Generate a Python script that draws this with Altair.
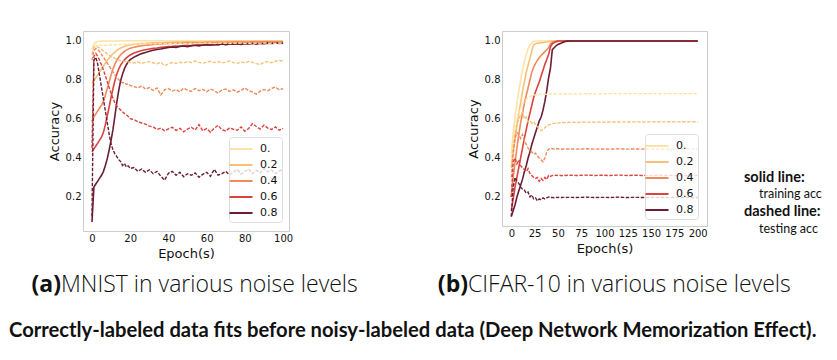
import altair as alt
import pandas as pd

# ---------------- data ----------------
LEVELS = ["0.", "0.2", "0.4", "0.6", "0.8"]
COLORS = ["#fde3a7", "#f7c277", "#ef8a5b", "#d9443f", "#6b1d33"]

# MNIST epochs
E_A = list(range(0, 21)) + list(range(22, 101, 2))
# CIFAR-10 epochs
E_B = list(range(0, 61, 2)) + list(range(65, 201, 5))

A_TRAIN_00 = [0.955, 0.985, 0.993, 0.996, 0.997, 0.998, 0.998, 0.998, 0.999, 0.999,
              0.999, 0.999, 0.999, 0.999, 0.999, 1.0, 1.0, 1.0, 1.0, 1.0, 1.0,
              1.0, 1.0, 1.0, 1.0, 1.0, 1.0, 1.0, 1.0, 1.0, 1.0,
              1.0, 1.0, 1.0, 1.0, 1.0, 1.0, 1.0, 1.0, 1.0, 1.0,
              1.0, 1.0, 1.0, 1.0, 1.0, 1.0, 1.0, 1.0, 1.0, 1.0,
              1.0, 1.0, 1.0, 1.0, 1.0, 1.0, 1.0, 1.0, 1.0, 1.0]
A_TRAIN_02 = [0.78, 0.795, 0.81, 0.825, 0.84, 0.855, 0.87, 0.885, 0.9, 0.912,
              0.923, 0.933, 0.942, 0.95, 0.957, 0.963, 0.967, 0.971, 0.974, 0.977, 0.979,
              0.982, 0.984, 0.986, 0.987, 0.988, 0.989, 0.990, 0.991, 0.991, 0.992,
              0.992, 0.993, 0.993, 0.994, 0.994, 0.994, 0.995, 0.995, 0.995, 0.995,
              0.996, 0.996, 0.996, 0.996, 0.996, 0.997, 0.997, 0.997, 0.997, 0.997,
              0.997, 0.998, 0.998, 0.998, 0.998, 0.998, 0.998, 0.998, 0.998, 0.998]
A_TRAIN_04 = [0.585, 0.61, 0.625, 0.64, 0.655, 0.67, 0.69, 0.72, 0.755, 0.79,
              0.825, 0.855, 0.88, 0.9, 0.915, 0.928, 0.938, 0.946, 0.952, 0.957, 0.961,
              0.967, 0.971, 0.974, 0.977, 0.979, 0.981, 0.982, 0.983, 0.985, 0.986,
              0.986, 0.987, 0.988, 0.988, 0.989, 0.989, 0.990, 0.990, 0.990, 0.991,
              0.991, 0.991, 0.992, 0.992, 0.992, 0.992, 0.993, 0.993, 0.993, 0.993,
              0.993, 0.994, 0.994, 0.994, 0.994, 0.994, 0.994, 0.995, 0.995, 0.995]
A_TRAIN_06 = [0.43, 0.445, 0.46, 0.475, 0.49, 0.505, 0.53, 0.57, 0.615, 0.66,
              0.71, 0.755, 0.795, 0.83, 0.855, 0.875, 0.89, 0.902, 0.912, 0.92, 0.927,
              0.937, 0.944, 0.95, 0.954, 0.958, 0.961, 0.963, 0.966, 0.968, 0.97,
              0.971, 0.973, 0.972, 0.975, 0.976, 0.974, 0.978, 0.979, 0.977, 0.98,
              0.981, 0.979, 0.982, 0.983, 0.981, 0.984, 0.982, 0.985, 0.984, 0.986,
              0.983, 0.986, 0.987, 0.985, 0.988, 0.986, 0.987, 0.989, 0.986, 0.988]
A_TRAIN_08 = [0.07, 0.25, 0.265, 0.28, 0.295, 0.31, 0.33, 0.36, 0.395, 0.44,
              0.49, 0.545, 0.615, 0.685, 0.745, 0.795, 0.83, 0.857, 0.877, 0.892, 0.903,
              0.916, 0.926, 0.934, 0.94, 0.946, 0.951, 0.955, 0.958, 0.962, 0.965,
              0.968, 0.966, 0.971, 0.973, 0.97, 0.975, 0.977, 0.974, 0.978, 0.98,
              0.977, 0.981, 0.979, 0.983, 0.98, 0.984, 0.982, 0.985, 0.981, 0.986,
              0.984, 0.987, 0.983, 0.988, 0.985, 0.989, 0.986, 0.988, 0.99, 0.987]

A_TEST_00 = [0.95, 0.972, 0.978, 0.976, 0.977, 0.975, 0.977, 0.976, 0.978, 0.977,
             0.979, 0.978, 0.98, 0.979, 0.981, 0.98, 0.982, 0.981, 0.982, 0.983, 0.982,
             0.983, 0.984, 0.983, 0.985, 0.984, 0.985, 0.984, 0.986, 0.985, 0.986,
             0.985, 0.986, 0.987, 0.986, 0.985, 0.987, 0.986, 0.987, 0.986, 0.988,
             0.987, 0.986, 0.987, 0.988, 0.987, 0.986, 0.988, 0.987, 0.988, 0.987,
             0.986, 0.988, 0.987, 0.988, 0.989, 0.987, 0.988, 0.987, 0.989, 0.988]
A_TEST_02 = [0.93, 0.965, 0.97, 0.968, 0.962, 0.955, 0.948, 0.94, 0.933, 0.926,
             0.92, 0.915, 0.91, 0.906, 0.902, 0.899, 0.897, 0.894, 0.893, 0.891, 0.889,
             0.886, 0.891, 0.884, 0.889, 0.893, 0.887, 0.882, 0.89, 0.872, 0.881,
             0.888, 0.884, 0.89, 0.886, 0.893, 0.888, 0.896, 0.889, 0.885, 0.891,
             0.895, 0.888, 0.893, 0.886, 0.89, 0.896, 0.888, 0.884, 0.892, 0.887,
             0.894, 0.889, 0.883, 0.878, 0.889, 0.893, 0.887, 0.895, 0.899, 0.896]
A_TEST_04 = [0.9, 0.95, 0.96, 0.955, 0.945, 0.93, 0.915, 0.9, 0.885, 0.87,
             0.855, 0.84, 0.825, 0.81, 0.8, 0.79, 0.783, 0.787, 0.776, 0.779, 0.771,
             0.765, 0.758, 0.769, 0.752, 0.76, 0.745, 0.758, 0.722, 0.748, 0.755,
             0.742, 0.75, 0.738, 0.757, 0.747, 0.74, 0.755, 0.744, 0.75, 0.738,
             0.752, 0.744, 0.731, 0.748, 0.752, 0.74, 0.748, 0.736, 0.745, 0.758,
             0.744, 0.737, 0.726, 0.741, 0.749, 0.744, 0.756, 0.762, 0.748, 0.755]
A_TEST_06 = [0.45, 0.92, 0.935, 0.92, 0.9, 0.875, 0.85, 0.82, 0.79, 0.76,
             0.73, 0.705, 0.68, 0.665, 0.655, 0.645, 0.635, 0.627, 0.62, 0.612, 0.6,
             0.595, 0.585, 0.578, 0.572, 0.562, 0.558, 0.545, 0.552, 0.538, 0.548,
             0.556, 0.54, 0.551, 0.533, 0.547, 0.556, 0.542, 0.57, 0.538, 0.549,
             0.531, 0.552, 0.566, 0.543, 0.537, 0.553, 0.546, 0.541, 0.558, 0.536,
             0.55, 0.575, 0.56, 0.547, 0.567, 0.552, 0.545, 0.558, 0.541, 0.55]
A_TEST_08 = [0.1, 0.9, 0.915, 0.88, 0.82, 0.76, 0.7, 0.64, 0.58, 0.52,
             0.47, 0.44, 0.42, 0.405, 0.39, 0.38, 0.36, 0.37, 0.352, 0.358, 0.345,
             0.35, 0.33, 0.342, 0.325, 0.338, 0.318, 0.33, 0.305, 0.285, 0.32,
             0.33, 0.31, 0.325, 0.302, 0.318, 0.31, 0.322, 0.3, 0.315, 0.325,
             0.305, 0.34, 0.31, 0.318, 0.33, 0.312, 0.325, 0.34, 0.315, 0.33,
             0.342, 0.318, 0.335, 0.322, 0.345, 0.328, 0.336, 0.318, 0.332, 0.34]

B_TRAIN_00 = [0.42, 0.53, 0.61, 0.68, 0.74, 0.8, 0.85, 0.89, 0.93, 0.96,
              0.98, 0.99, 0.997, 1.0, 1.0, 1.0, 1.0, 1.0, 1.0, 1.0,
              1.0, 1.0, 1.0, 1.0, 1.0, 1.0, 1.0, 1.0, 1.0, 1.0, 1.0,
              1.0, 1.0, 1.0, 1.0, 1.0, 1.0, 1.0, 1.0, 1.0, 1.0,
              1.0, 1.0, 1.0, 1.0, 1.0, 1.0, 1.0, 1.0, 1.0, 1.0,
              1.0, 1.0, 1.0, 1.0, 1.0, 1.0, 1.0, 1.0]
B_TRAIN_02 = [0.35, 0.43, 0.5, 0.57, 0.63, 0.68, 0.74, 0.79, 0.84, 0.875,
              0.91, 0.95, 0.98, 0.986, 0.988, 0.99, 0.991, 0.992, 0.993, 0.995,
              0.997, 0.998, 0.999, 1.0, 1.0, 1.0, 1.0, 1.0, 1.0, 1.0, 1.0,
              1.0, 1.0, 1.0, 1.0, 1.0, 1.0, 1.0, 1.0, 1.0, 1.0,
              1.0, 1.0, 1.0, 1.0, 1.0, 1.0, 1.0, 1.0, 1.0, 1.0,
              1.0, 1.0, 1.0, 1.0, 1.0, 1.0, 1.0, 1.0]
B_TRAIN_04 = [0.2, 0.3, 0.38, 0.45, 0.52, 0.58, 0.63, 0.68, 0.72, 0.76,
              0.8, 0.84, 0.865, 0.885, 0.9, 0.915, 0.925, 0.935, 0.945, 0.955,
              0.965, 0.985, 0.992, 0.996, 0.999, 1.0, 1.0, 1.0, 1.0, 1.0, 1.0,
              1.0, 1.0, 1.0, 1.0, 1.0, 1.0, 1.0, 1.0, 1.0, 1.0,
              1.0, 1.0, 1.0, 1.0, 1.0, 1.0, 1.0, 1.0, 1.0, 1.0,
              1.0, 1.0, 1.0, 1.0, 1.0, 1.0, 1.0, 1.0]
B_TRAIN_06 = [0.13, 0.19, 0.25, 0.3, 0.35, 0.4, 0.45, 0.5, 0.545, 0.59,
              0.63, 0.67, 0.71, 0.74, 0.765, 0.79, 0.82, 0.85, 0.88, 0.905,
              0.93, 0.97, 0.985, 0.992, 0.996, 0.999, 1.0, 1.0, 1.0, 1.0, 1.0,
              1.0, 1.0, 1.0, 1.0, 1.0, 1.0, 1.0, 1.0, 1.0, 1.0,
              1.0, 1.0, 1.0, 1.0, 1.0, 1.0, 1.0, 1.0, 1.0, 1.0,
              1.0, 1.0, 1.0, 1.0, 1.0, 1.0, 1.0, 1.0]
B_TRAIN_08 = [0.1, 0.13, 0.16, 0.2, 0.23, 0.26, 0.29, 0.33, 0.36, 0.4,
              0.43, 0.47, 0.5, 0.53, 0.56, 0.59, 0.61, 0.645, 0.69, 0.745,
              0.81, 0.86, 0.955, 0.965, 0.975, 0.982, 0.986, 0.99, 0.994, 0.997, 0.999,
              1.0, 1.0, 1.0, 1.0, 1.0, 1.0, 1.0, 1.0, 1.0, 1.0,
              1.0, 1.0, 1.0, 1.0, 1.0, 1.0, 1.0, 1.0, 1.0, 1.0,
              1.0, 1.0, 1.0, 1.0, 1.0, 1.0, 1.0, 1.0]

B_TEST_00 = [0.4, 0.5, 0.56, 0.6, 0.63, 0.655, 0.675, 0.69, 0.7, 0.71,
             0.715, 0.72, 0.722, 0.724, 0.725, 0.726, 0.726, 0.727, 0.727, 0.726,
             0.727, 0.728, 0.727, 0.727, 0.728, 0.727, 0.728, 0.728, 0.727, 0.728, 0.728,
             0.728, 0.729, 0.728, 0.729, 0.729, 0.728, 0.729, 0.729, 0.73, 0.729,
             0.729, 0.73, 0.729, 0.73, 0.73, 0.729, 0.73, 0.73, 0.73, 0.729,
             0.73, 0.73, 0.73, 0.73, 0.729, 0.73, 0.73, 0.73]
B_TEST_02 = [0.35, 0.45, 0.52, 0.57, 0.6, 0.62, 0.635, 0.6, 0.61, 0.585,
             0.59, 0.578, 0.586, 0.57, 0.56, 0.55, 0.54, 0.545, 0.555, 0.565,
             0.57, 0.573, 0.576, 0.577, 0.579, 0.58, 0.581, 0.58, 0.582, 0.581, 0.582,
             0.583, 0.582, 0.583, 0.584, 0.583, 0.584, 0.584, 0.583, 0.585, 0.584,
             0.584, 0.585, 0.584, 0.585, 0.585, 0.584, 0.585, 0.585, 0.586, 0.585,
             0.585, 0.586, 0.585, 0.585, 0.586, 0.585, 0.586, 0.586]
B_TEST_04 = [0.3, 0.42, 0.5, 0.53, 0.52, 0.5, 0.52, 0.49, 0.47, 0.45,
             0.44, 0.43, 0.42, 0.425, 0.41, 0.4, 0.39, 0.38, 0.4, 0.43,
             0.445, 0.45, 0.448, 0.445, 0.447, 0.446, 0.447, 0.445, 0.446, 0.447, 0.446,
             0.446, 0.445, 0.446, 0.447, 0.446, 0.445, 0.446, 0.446, 0.445, 0.446,
             0.447, 0.446, 0.445, 0.446, 0.446, 0.445, 0.446, 0.445, 0.446, 0.446,
             0.445, 0.446, 0.445, 0.446, 0.445, 0.446, 0.445, 0.445]
B_TEST_06 = [0.2, 0.38, 0.4, 0.37, 0.39, 0.36, 0.35, 0.34, 0.33, 0.345,
             0.32, 0.31, 0.3, 0.295, 0.3, 0.28, 0.295, 0.285, 0.3, 0.29,
             0.31, 0.305, 0.31, 0.308, 0.312, 0.31, 0.311, 0.309, 0.311, 0.31, 0.311,
             0.311, 0.31, 0.311, 0.312, 0.311, 0.31, 0.311, 0.311, 0.31, 0.311,
             0.312, 0.311, 0.31, 0.311, 0.311, 0.31, 0.311, 0.31, 0.311, 0.311,
             0.31, 0.311, 0.31, 0.311, 0.31, 0.311, 0.31, 0.31]
B_TEST_08 = [0.1, 0.25, 0.3, 0.28, 0.27, 0.25, 0.24, 0.235, 0.22, 0.225,
             0.2, 0.21, 0.19, 0.195, 0.18, 0.19, 0.185, 0.195, 0.19, 0.195,
             0.2, 0.197, 0.198, 0.196, 0.198, 0.197, 0.198, 0.197, 0.198, 0.197, 0.198,
             0.198, 0.197, 0.198, 0.199, 0.198, 0.197, 0.198, 0.198, 0.197, 0.198,
             0.199, 0.198, 0.197, 0.198, 0.198, 0.197, 0.198, 0.197, 0.198, 0.198,
             0.197, 0.198, 0.197, 0.198, 0.197, 0.198, 0.197, 0.197]

A_TICKS = [0, 20, 40, 60, 80, 100]
B_TICKS = [0, 25, 50, 75, 100, 125, 150, 175, 200]
Y_TICKS = [0.2, 0.4, 0.6, 0.8, 1.0]

TAG_A = "(a)"
CAP_A = "MNIST in various noise levels"
TAG_B = "(b)"
CAP_B = "CIFAR-10 in various noise levels"
NOTE_LINES = ["solid line:", "training acc", "dashed line:", "testing acc"]
BOTTOM = "Correctly-labeled data fits before noisy-labeled data (Deep Network Memorization Effect)."


def long_df(epochs, trains, tests):
    rows = []
    for lvl, tr, te in zip(LEVELS, trains, tests):
        assert len(tr) == len(epochs) and len(te) == len(epochs), lvl
        for e, v in zip(epochs, tr):
            rows.append({"epoch": e, "acc": v, "noise": lvl, "kind": "train"})
        for e, v in zip(epochs, te):
            rows.append({"epoch": e, "acc": v, "noise": lvl, "kind": "test"})
    return pd.DataFrame(rows)


DF_A = long_df(E_A, [A_TRAIN_00, A_TRAIN_02, A_TRAIN_04, A_TRAIN_06, A_TRAIN_08],
               [A_TEST_00, A_TEST_02, A_TEST_04, A_TEST_06, A_TEST_08])
DF_B = long_df(E_B, [B_TRAIN_00, B_TRAIN_02, B_TRAIN_04, B_TRAIN_06, B_TRAIN_08],
               [B_TEST_00, B_TEST_02, B_TEST_04, B_TEST_06, B_TEST_08])

AX_FONT = "DejaVu Sans"
CAP_FONT = "Open Sans"
TXT_FONT = "Lato"


def txt(s, x, y, size, weight, align="left", font=TXT_FONT):
    return alt.Chart(pd.DataFrame({"t": [s]})).mark_text(
        align=align, baseline="alphabetic", fontSize=size, fontWeight=weight,
        font=font, color="#111111"
    ).encode(text="t:N", x=alt.value(x), y=alt.value(y))


def panel(df, xdom, xticks, ydom, w, h, lx, ly, extras):
    x = alt.X("epoch:Q", scale=alt.Scale(domain=xdom, nice=False, zero=False),
              axis=alt.Axis(values=xticks, format="d", title="Epoch(s)",
                            labelOverlap=False, labelFlush=False))
    y = alt.Y("acc:Q", scale=alt.Scale(domain=ydom, nice=False, zero=False),
              axis=alt.Axis(values=Y_TICKS, format=".1f", title="Accuracy"))
    cscale = alt.Scale(domain=LEVELS, range=COLORS)
    legend = alt.Legend(orient="none", legendX=lx, legendY=ly, title=None,
                        fillColor="rgba(255,255,255,0.8)", strokeColor="#dddddd",
                        cornerRadius=3, padding=4, symbolType="M-1.65,0H1.65",
                        symbolSize=196, symbolStrokeWidth=2,
                        labelFont=AX_FONT, labelFontSize=11, labelColor="#111111",
                        labelOffset=11, rowPadding=3)
    base = alt.Chart(df)
    train = base.transform_filter(alt.datum.kind == "train").mark_line(
        strokeWidth=1.6, clip=True).encode(
        x=x, y=y, color=alt.Color("noise:N", scale=cscale, legend=legend))
    test = base.transform_filter(alt.datum.kind == "test").mark_line(
        strokeWidth=1.4, strokeDash=[3.5, 1.5], clip=True).encode(
        x=x, y=y, color=alt.Color("noise:N", scale=cscale, legend=None))
    return alt.layer(train, test, *extras).properties(width=w, height=h)


left = panel(DF_A, [-4.7, 103.1], A_TICKS, [0.024, 1.05], 206, 200, 146, 106, [
    txt(TAG_A, -22, 261, 23, "bold", align="right", font=CAP_FONT),
    txt(CAP_A, -22, 261, 23, 300, font=CAP_FONT),
    txt(BOTTOM, -74, 306, 20.2, "bold"),
])
right = panel(DF_B, [-10, 210], B_TICKS, [0.051, 1.051], 205, 195, 143, 103, [
    txt(TAG_B, -34, 261, 23, "bold", align="right", font=CAP_FONT),
    txt(CAP_B, -34, 261, 23, 300, font=CAP_FONT),
    txt(NOTE_LINES[0], 242, 151, 14.5, "bold"),
    txt(NOTE_LINES[1], 257, 167, 12.5, "normal"),
    txt(NOTE_LINES[2], 242, 185, 14.5, "bold"),
    txt(NOTE_LINES[3], 257, 202, 12.5, "normal"),
])

chart = alt.hconcat(left, right, spacing=213, bounds="flush").resolve_scale(
    color="independent").resolve_legend(color="independent").properties(
    padding={"left": 0, "top": 22, "right": 0, "bottom": 0}
).configure_view(stroke="#cccccc", strokeWidth=1).configure_axis(
    domain=False, ticks=False, grid=False,
    labelFont=AX_FONT, labelFontSize=10, labelColor="#111111", labelPadding=2,
    titleFont=AX_FONT, titleFontSize=13, titleFontWeight="normal", titleColor="#111111",
    titlePadding=4,
)

chart.save("out.html", embed_options={"renderer": "svg", "actions": False})
